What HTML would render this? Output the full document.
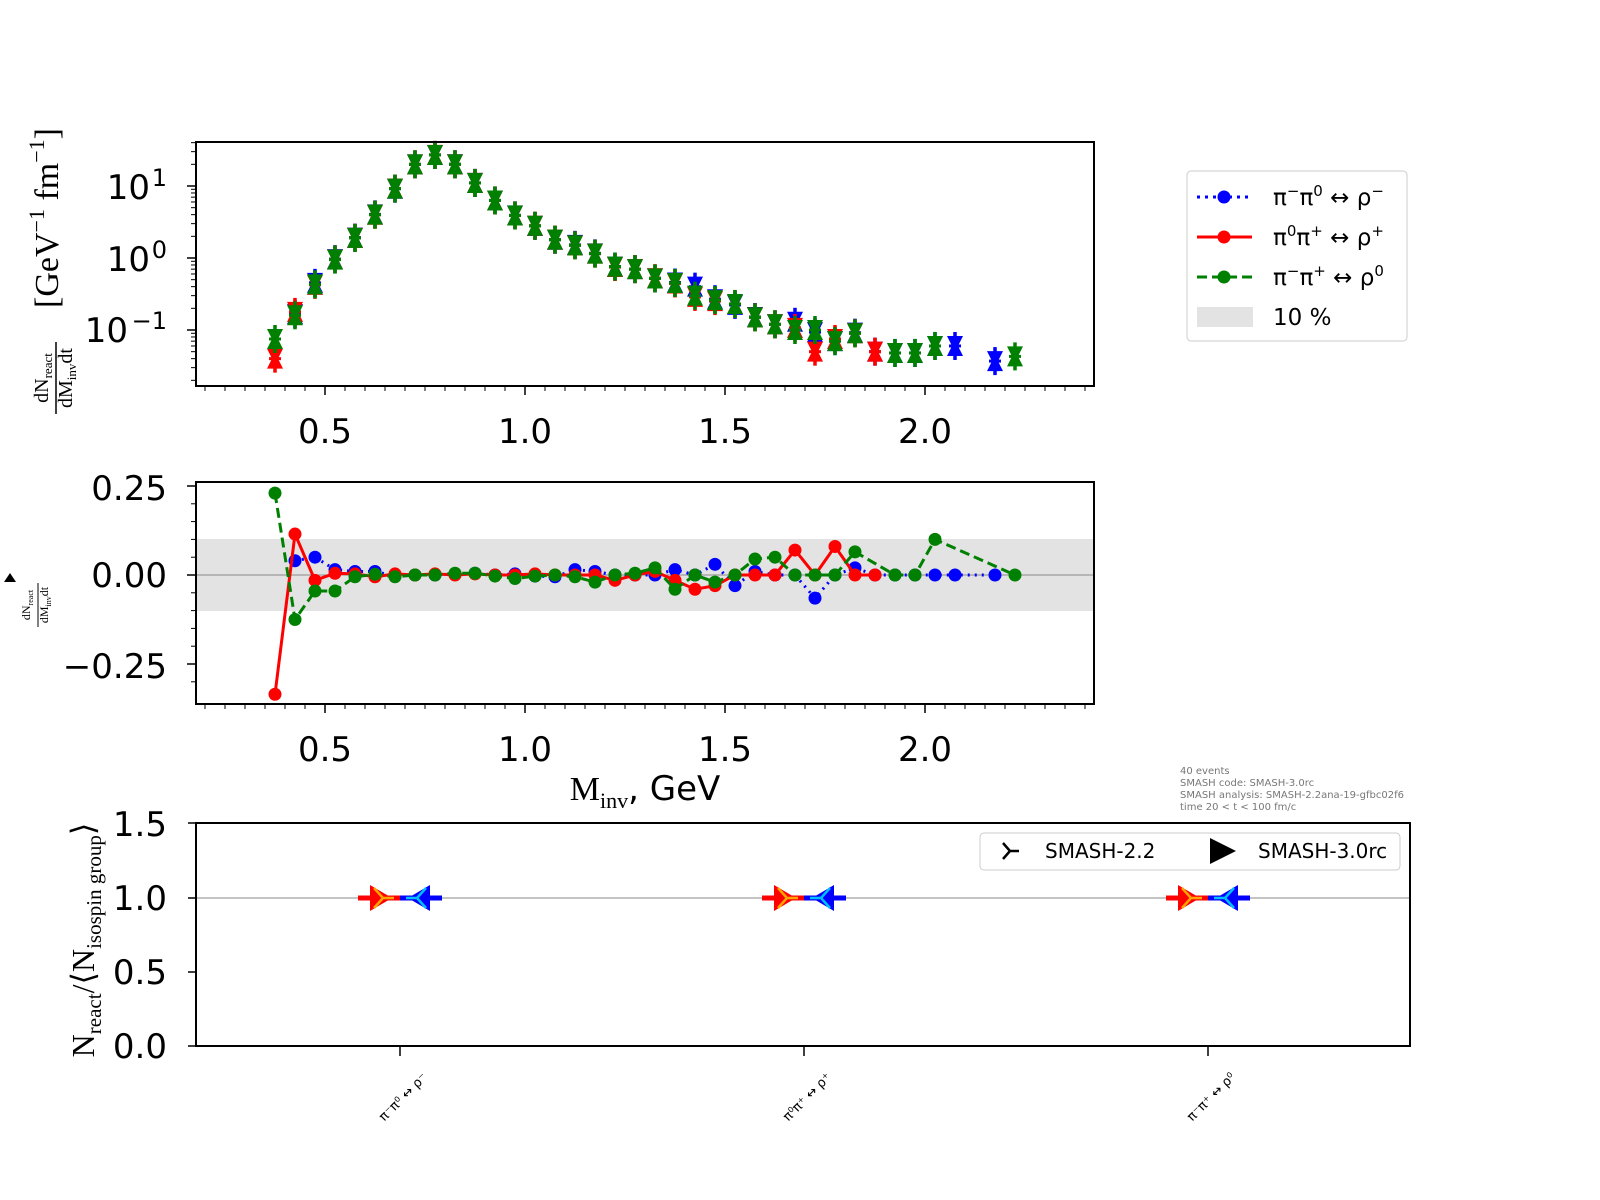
<!DOCTYPE html>
<html><head><meta charset="utf-8"><style>
html,body{margin:0;padding:0;background:#fff;width:1600px;height:1200px;overflow:hidden}
svg{display:block}
text{font-family:"DejaVu Sans","Liberation Sans",sans-serif}
.t{font-size:34px}
.s{font-family:"Liberation Serif","DejaVu Serif",serif}
</style></head><body>
<svg id="c" width="1600" height="1200" xmlns="http://www.w3.org/2000/svg">
<g id="gtop"></g>
<rect x="196" y="142" width="898" height="244" fill="none" stroke="#000" stroke-width="2"/>
<g class="t" text-anchor="middle">
<text x="325" y="443">0.5</text><text x="525" y="443">1.0</text><text x="725" y="443">1.5</text><text x="925" y="443">2.0</text>
</g>
<g class="t" text-anchor="end">
<text x="150" y="199">10</text><text x="167" y="186" font-size="24">1</text>
<text x="150" y="271">10</text><text x="167" y="258" font-size="24">0</text>
<text x="128" y="342">10</text><text x="167" y="329" font-size="24">−1</text>
</g>
<g transform="translate(56,378) rotate(-90)" text-anchor="middle">
<text x="0" y="-8" font-size="20" class="s">dN<tspan font-size="13" dy="4">react</tspan></text>
<line x1="-36" y1="0" x2="36" y2="0" stroke="#000" stroke-width="1.5"/>
<text x="0" y="16" font-size="20" class="s">dM<tspan font-size="13" dy="4">inv</tspan><tspan dy="-4">dt</tspan></text>
</g>
<text transform="translate(58,218) rotate(-90)" text-anchor="middle" font-size="34" class="s">[GeV<tspan font-size="22" dy="-14">−1</tspan><tspan dy="14"> fm</tspan><tspan font-size="22" dy="-14">−1</tspan><tspan dy="14">]</tspan></text>
<rect x="196" y="539" width="898" height="72" fill="#e3e3e3"/>
<line x1="196" y1="575" x2="1094" y2="575" stroke="#888" stroke-width="1"/>
<g id="gmid"></g>
<rect x="196" y="482" width="898" height="222" fill="none" stroke="#000" stroke-width="2"/>
<g class="t" text-anchor="middle">
<text x="325" y="761">0.5</text><text x="525" y="761">1.0</text><text x="725" y="761">1.5</text><text x="925" y="761">2.0</text>
</g>
<g class="t" text-anchor="end">
<text x="167" y="500">0.25</text><text x="167" y="587">0.00</text><text x="167" y="678">−0.25</text>
</g>
<g transform="translate(38,605) rotate(-90)" text-anchor="middle">
<text x="0" y="-8" font-size="12" class="s">dN<tspan font-size="8" dy="3">react</tspan></text>
<line x1="-22" y1="0" x2="22" y2="0" stroke="#000" stroke-width="1"/>
<text x="0" y="10" font-size="12" class="s">dM<tspan font-size="8" dy="3">inv</tspan><tspan dy="-3">dt</tspan></text>
</g>
<polygon points="4,582 16,582 10,573" fill="#000"/>
<text x="645" y="800" text-anchor="middle" font-size="34"><tspan class="s">M</tspan><tspan class="s" font-size="22" dy="8">inv</tspan><tspan dy="-8">, GeV</tspan></text>
<g font-size="10" fill="#777">
<text x="1180" y="774">40 events</text>
<text x="1180" y="786">SMASH code:      SMASH-3.0rc</text>
<text x="1180" y="798">SMASH analysis: SMASH-2.2ana-19-gfbc02f6</text>
<text x="1180" y="810">time 20 &lt; t &lt; 100 fm/c</text>
</g>
<rect x="1187" y="171" width="220" height="170" rx="4" fill="#fff" stroke="#ccc" stroke-width="1"/>
<line x1="1197" y1="197" x2="1252" y2="197" stroke="#00f" stroke-width="3" stroke-dasharray="3,5"/><circle cx="1224" cy="197" r="6.5" fill="#00f"/>
<line x1="1197" y1="237" x2="1252" y2="237" stroke="#f00" stroke-width="3"/><circle cx="1224" cy="237" r="6.5" fill="#f00"/>
<line x1="1197" y1="277" x2="1252" y2="277" stroke="#008000" stroke-width="3" stroke-dasharray="10,5"/><circle cx="1224" cy="277" r="6.5" fill="#008000"/>
<rect x="1197" y="307" width="56" height="20" fill="#e3e3e3"/>
<g font-size="23">
<text x="1273" y="205">π<tspan font-size="15" dy="-9">−</tspan><tspan dy="9">π</tspan><tspan font-size="15" dy="-9">0</tspan><tspan dy="9"> ↔ ρ</tspan><tspan font-size="15" dy="-9">−</tspan></text>
<text x="1273" y="245">π<tspan font-size="15" dy="-9">0</tspan><tspan dy="9">π</tspan><tspan font-size="15" dy="-9">+</tspan><tspan dy="9"> ↔ ρ</tspan><tspan font-size="15" dy="-9">+</tspan></text>
<text x="1273" y="285">π<tspan font-size="15" dy="-9">−</tspan><tspan dy="9">π</tspan><tspan font-size="15" dy="-9">+</tspan><tspan dy="9"> ↔ ρ</tspan><tspan font-size="15" dy="-9">0</tspan></text>
<text x="1273" y="325">10 %</text>
</g>
<line x1="196" y1="898" x2="1410" y2="898" stroke="#888" stroke-width="1"/>
<g id="gbot"></g>
<rect x="196" y="823" width="1214" height="223" fill="none" stroke="#000" stroke-width="2"/>
<g stroke="#000" stroke-width="1.5"><line x1="400" y1="1046" x2="400" y2="1056"/><line x1="804" y1="1046" x2="804" y2="1056"/><line x1="1208" y1="1046" x2="1208" y2="1056"/>
<line x1="196" y1="823" x2="188" y2="823"/><line x1="196" y1="898" x2="188" y2="898"/><line x1="196" y1="972" x2="188" y2="972"/><line x1="196" y1="1046" x2="188" y2="1046"/></g>
<g class="t" text-anchor="end">
<text x="167" y="836">1.5</text><text x="167" y="910">1.0</text><text x="167" y="984">0.5</text><text x="167" y="1058">0.0</text>
</g>
<text transform="translate(94,940) rotate(-90)" text-anchor="middle" font-size="32" class="s">N<tspan font-size="21" dy="7">react</tspan><tspan dy="-7">/⟨N</tspan><tspan font-size="21" dy="7">isospin group</tspan><tspan dy="-7">⟩</tspan></text>
<g font-size="13" text-anchor="end">
<text transform="translate(428,1078) rotate(-45)">π⁻π⁰ ↔ ρ⁻</text>
<text transform="translate(832,1078) rotate(-45)">π⁰π⁺ ↔ ρ⁺</text>
<text transform="translate(1236,1078) rotate(-45)">π⁻π⁺ ↔ ρ⁰</text>
</g>
<rect x="980" y="833" width="420" height="37" rx="4" fill="#fff" stroke="#ccc"/>
<g stroke="#000" stroke-width="2.5" fill="none"><path d="M1003,843 L1010,851 L1003,859 M1010,851 L1019,851"/></g>
<polygon points="1210,838 1236,851 1210,864" fill="#000"/>
<g font-size="20"><text x="1045" y="858">SMASH-2.2</text><text x="1258" y="858">SMASH-3.0rc</text></g>
</svg>
<script>
(function(){
var NS="http://www.w3.org/2000/svg";
function el(p,t,a){var e=document.createElementNS(NS,t);for(var k in a)e.setAttribute(k,a[k]);p.appendChild(e);return e;}
function X(m){return 125+400*m;} function Y(v){return 258-72*Math.log10(v);} function Ym(v){return 575-356*v;}
var gT=document.getElementById('gtop'), gM=document.getElementById('gmid'), gB=document.getElementById('gbot'), svg=document.getElementById('c');
[386,704].forEach(function(y0){
 for(var i=0;i<=44;i++){var m=0.2+0.05*i;var big=(i%10==6);el(svg,'line',{x1:X(m),y1:y0,x2:X(m),y2:y0+(big?9:5),stroke:'#000','stroke-width':big?1.5:1});}
});
for(var d=-2;d<=1;d++)for(var k=1;k<10;k++){var v=k*Math.pow(10,d);var y=Y(v);if(y<142||y>386)continue;el(svg,'line',{x1:196,y1:y,x2:196-(k==1?9:5),y2:y,stroke:'#000','stroke-width':k==1?1.5:1});}
for(var j=-6;j<=6;j++){var v2=j*0.05;var y2=Ym(v2);if(y2<482||y2>704)continue;var bg=(j%5==0);el(svg,'line',{x1:196,y1:y2,x2:196-(bg?9:5),y2:y2,stroke:'#000','stroke-width':bg?1.5:1});}
var G={0.375:0.075,0.425:0.16,0.475:0.43,0.525:0.95,0.575:1.9,0.625:4,0.675:9.2,0.725:20,0.775:27,0.825:20,0.875:11,0.925:6.3,0.975:3.9,1.025:2.8,1.075:1.8,1.125:1.5,1.175:1.15,1.225:0.76,1.275:0.7,1.325:0.52,1.375:0.45,1.425:0.3,1.475:0.26,1.525:0.23,1.575:0.15,1.625:0.12,1.675:0.1,1.725:0.1,1.775:0.07,1.825:0.09,1.925:0.048,1.975:0.048,2.025:0.06,2.225:0.043};
var Rd={0.375:-0.335,0.425:0.115,0.475:-0.015,0.525:0.005,0.575:0.003,0.625:-0.005,0.675:0.003,0.725:0,0.775:0.003,0.825:0,0.875:0.003,0.925:0,0.975:0,1.025:0.003,1.075:0,1.125:0,1.175:0,1.225:-0.015,1.275:0,1.325:0.01,1.375:-0.015,1.425:-0.04,1.475:-0.03,1.525:0,1.575:0,1.625:0,1.675:0.07,1.725:0,1.775:0.08,1.825:0,1.875:0};
var Bd={0.425:0.04,0.475:0.05,0.525:0.015,0.575:0.01,0.625:0.01,0.675:-0.003,0.725:0,0.775:0,0.825:0.003,0.875:0.005,0.925:0,0.975:0.003,1.025:-0.003,1.075:-0.005,1.125:0.015,1.175:0.01,1.225:0,1.275:0,1.325:0,1.375:0.015,1.425:0,1.475:0.03,1.525:-0.03,1.575:0.01,1.625:0,1.675:0,1.725:-0.065,1.775:0,1.825:0.02,1.875:0,1.925:0,1.975:0,2.025:0,2.075:0,2.175:0};
var Gd={0.375:0.23,0.425:-0.125,0.475:-0.045,0.525:-0.045,0.575:-0.005,0.625:0.002,0.675:-0.005,0.725:0,0.775:0,0.825:0.005,0.875:0.005,0.925:-0.003,0.975:-0.01,1.025:-0.003,1.075:0,1.125:-0.005,1.175:-0.02,1.225:0,1.275:0.005,1.325:0.02,1.375:-0.04,1.425:0,1.475:-0.02,1.525:0,1.575:0.045,1.625:0.05,1.675:0,1.725:0,1.775:0,1.825:0.065,1.925:0,1.975:0,2.025:0.1,2.225:0};
function topVals(dd,extra){var o={};for(var k in G){if(dd[k]!==undefined)o[k]=G[k]*(1+dd[k]);}for(var e in extra)o[e]=extra[e];return o;}
var red=topVals(Rd,{0.375:0.04,1.725:0.05,1.875:0.05,1.775:0.075});
var blue=topVals(Bd,{1.425:0.4,1.675:0.13,2.075:0.06,2.175:0.037,1.875:0.05});
function bow(p,x,y,c){el(p,'polygon',{points:(x-8)+','+(y-10)+' '+(x+8)+','+(y-10)+' '+(x+3)+','+y+' '+(x+8)+','+(y+10)+' '+(x-8)+','+(y+10)+' '+(x-3)+','+y,fill:c});el(p,'line',{x1:x,y1:y-14,x2:x,y2:y+14,stroke:c,'stroke-width':3.5});el(p,'line',{x1:x-6,y1:y,x2:x+6,y2:y,stroke:c,'stroke-width':3});}
[[blue,'#00f'],[red,'#f00'],[G,'#008000']].forEach(function(s){for(var k in s[0])bow(gT,X(+k),Y(s[0][k]),s[1]);});
function series(dd,c,dash){var ks=Object.keys(dd).map(Number).sort(function(a,b){return a-b;});el(gM,'polyline',{points:ks.map(function(k){return X(k)+','+Ym(dd[k]);}).join(' '),fill:'none',stroke:c,'stroke-width':3,'stroke-dasharray':dash});ks.forEach(function(k){el(gM,'circle',{cx:X(k),cy:Ym(dd[k]),r:6.5,fill:c});});}
series(Bd,'#00f','2,5');series(Rd,'#f00','none');series(Gd,'#008000','10,5');
[400,804,1208].forEach(function(cx){
 el(gB,'line',{x1:cx-42,y1:898,x2:cx+42,y2:898,stroke:'#00f','stroke-width':5});
 el(gB,'line',{x1:cx-42,y1:898,x2:cx,y2:898,stroke:'#f00','stroke-width':5});
 el(gB,'polygon',{points:(cx-30)+',885 '+(cx-8)+',898 '+(cx-30)+',911',fill:'#f00'});
 el(gB,'path',{d:'M'+(cx-26)+',888 L'+(cx-17)+',898 L'+(cx-26)+',908 M'+(cx-17)+',898 L'+(cx-6)+',898',stroke:'#ffa500','stroke-width':2.5,fill:'none'});
 el(gB,'polygon',{points:(cx+30)+',885 '+(cx+8)+',898 '+(cx+30)+',911',fill:'#00f'});
 el(gB,'path',{d:'M'+(cx+26)+',888 L'+(cx+17)+',898 L'+(cx+26)+',908 M'+(cx+17)+',898 L'+(cx+6)+',898',stroke:'#00bfff','stroke-width':2.5,fill:'none'});
});
})();
</script>
</body></html>
